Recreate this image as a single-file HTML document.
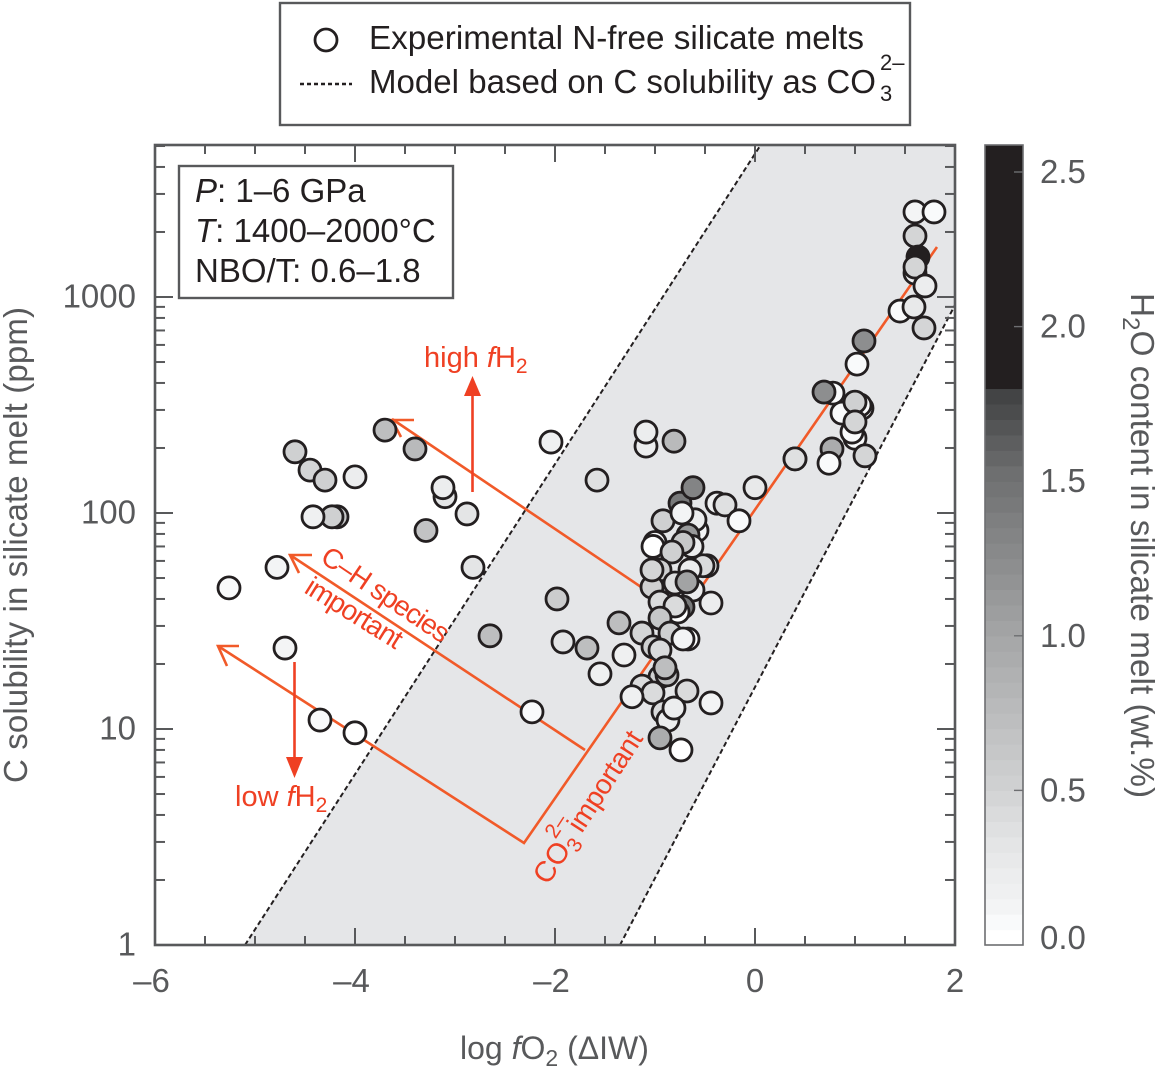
<!DOCTYPE html>
<html lang="en">
<head>
<meta charset="utf-8">
<title>C solubility in silicate melt vs log fO2</title>
<style>
html,body{margin:0;padding:0;background:#fff;width:1160px;height:1070px;overflow:hidden}
svg{display:block;font-family:"Liberation Sans",Arial,sans-serif}
</style>
</head>
<body>
<svg id="chart" xmlns="http://www.w3.org/2000/svg" width="1160" height="1070" viewBox="0 0 1160 1070">
  <rect width="1160" height="1070" fill="#fff"/>
  <g id="band-layer"></g>
  <g id="tick-layer"></g>

  <g fill="none" stroke="#f15a29" stroke-width="2.6">
    <path d="M937 247L524 843L218 646"/>
    <path d="M585 750L290 555"/>
    <path d="M650 593L392 419"/>
    <path d="M239 646H218L227 666"/>
    <path d="M312 555H290L299 573"/>
    <path d="M414 420H392L401 437"/>
  </g>
  <g id="point-layer"></g>

  <g>
    <path d="M472.500 492V392" stroke="#ef4023" stroke-width="2.600" fill="none"/>
    <path d="M472.500 376L481 396H464Z" fill="#ef4023"/>
    <path d="M294.500 662V762" stroke="#ef4023" stroke-width="2.600" fill="none"/>
    <path d="M294.500 778L286 757H303Z" fill="#ef4023"/>
  </g>

  <g fill="#ef4023">
    <text x="424" y="367" font-size="29">high <tspan font-style="italic">f</tspan>H<tspan font-size="21" dy="6">2</tspan></text>
    <text x="235" y="806" font-size="29">low <tspan font-style="italic">f</tspan>H<tspan font-size="21" dy="6">2</tspan></text>
    <text transform="translate(319 561) rotate(34)" font-size="28" textLength="148" lengthAdjust="spacing">C–H species</text>
    <text transform="translate(303 592) rotate(32)" font-size="28" textLength="109" lengthAdjust="spacing">important</text>
    <g transform="translate(548 886) rotate(-57)">
      <text x="0" y="0" font-size="29">CO</text>
      <text x="43" y="7" font-size="21">3</text>
      <text x="43" y="-19" font-size="21">2–</text>
      <text x="62" y="0" font-size="28" textLength="114" lengthAdjust="spacing">important</text>
    </g>
  </g>

  <rect x="155" y="145" width="800" height="800" fill="none" stroke="#58595b" stroke-width="2.600"/>
  <g id="label-layer" fill="#58595b" font-size="33"></g>

  <text x="460" y="1059" font-size="32" fill="#58595b">log <tspan font-style="italic">f</tspan>O<tspan font-size="23" dy="7">2</tspan><tspan dy="-7"> (ΔIW)</tspan></text>
  <text transform="translate(27 783) rotate(-90)" font-size="33" fill="#58595b" textLength="476">C solubility in silicate melt (ppm)</text>

  <g id="colorbar-layer"></g>
  <text transform="translate(1131 293) rotate(90)" font-size="33.400" fill="#58595b">H<tspan font-size="24" dy="8">2</tspan><tspan dy="-8">O content in silicate melt (wt.%)</tspan></text>

  <g>
    <rect x="179" y="166" width="274" height="132" fill="#fff" stroke="#58595b" stroke-width="2.400"/>
    <text x="195" y="202" font-size="33" fill="#231f20"><tspan font-style="italic">P</tspan>: 1–6 GPa</text>
    <text x="195" y="242" font-size="33" fill="#231f20"><tspan font-style="italic">T</tspan>: 1400–2000°C</text>
    <text x="195" y="282" font-size="33" fill="#231f20">NBO/T: 0.6–1.8</text>
  </g>

  <g>
    <rect x="280" y="3" width="630" height="122" fill="#fff" stroke="#58595b" stroke-width="2.400"/>
    <circle cx="326" cy="40" r="11" fill="#fff" stroke="#231f20" stroke-width="2.800"/>
    <text x="369" y="49" font-size="33" fill="#231f20" textLength="495" lengthAdjust="spacingAndGlyphs">Experimental N-free silicate melts</text>
    <line x1="300" y1="84" x2="352" y2="84" stroke="#231f20" stroke-width="2.400" stroke-dasharray="4 3"/>
    <text x="369" y="93" font-size="33" fill="#231f20" textLength="507" lengthAdjust="spacingAndGlyphs">Model based on C solubility as CO</text>
    <text x="880" y="101" font-size="22" fill="#231f20">3</text>
    <text x="880" y="70" font-size="22" fill="#231f20">2–</text>
  </g>
</svg>

<script>
// ---- chart data ----
const pointLogFO2 = [
 -5.26,-4.78,-4.70,-4.60,-4.45,-4.30,-4.18,-4.23,-4.42,-4.00,-4.35,-4.00,-3.70,-3.40,-3.29,-3.10,-3.12,-2.88,-2.82,-2.65,
 -2.23,-2.04,-1.98,-1.92,-1.58,-1.68,-1.55,-1.09,-1.09,-0.81,
 -0.75,-0.62,-0.38,-0.30,0.00,-0.16,0.40,-0.58,-0.60,-0.67,-0.92,-0.73,
 -1.00,-1.02,-0.63,-0.72,-0.83,-0.48,-0.52,
 -0.95,-1.03,-1.03,-0.80,-0.65,-0.62,-0.68,
 -0.44,-0.95,-0.72,-0.77,-0.80,
 -0.95,-1.36,-1.13,-0.85,-0.67,-0.72,-1.02,-0.95,-1.31,
 -0.95,-0.88,-0.90,-1.13,-1.02,-1.23,-0.68,-0.44,-0.92,-0.87,-0.81,-0.95,-0.74,
 1.60,1.79,1.60,1.63,1.60,1.60,1.70,1.45,1.59,1.69,1.09,1.02,0.78,0.69,0.87,1.07,1.05,1.00,1.00,0.97,1.00,0.77,0.74,1.10,0.40
];
const pointSolubilityPpm = [
 45,56,23.7,192,158,142,96,96,96,147,11,9.6,242,198,83,119,131,99,56,27,
 12,213,40,25.3,142,23.7,18,204,237,215,
 111,131,111,109,131,92,178,83,93,79,92,100,
 73,70,70,73,66,57,57,
 54.5,45.4,54.5,47.4,54.5,44,48,
 38.3,38.7,36.7,34.8,37.1,
 32.6,31,27.8,27.8,26.1,26.1,24,23.2,22,
 17.4,17.8,19.2,15.8,14.7,14.1,15,13.2,12,11,12.5,9.1,8,
 2476,2476,1916,1531,1291,1376,1125,861,899,719,626,489,359,363,290,306,316,326,222,237,264,198,170,184,178
];
const pointWaterWtPct = [
 0.05,0.10,0.10,0.50,0.45,0.50,0.60,0.50,0.15,0.20,0.05,0.00,0.70,0.75,0.65,0.30,0.20,0.30,0.30,0.70,
 0.05,0.15,0.55,0.30,0.35,0.70,0.15,0.20,0.20,0.75,
 1.40,1.30,0.15,0.35,0.25,0.05,0.35,0.10,0.20,1.10,0.50,0.10,
 0.05,0.00,0.20,0.60,0.50,0.10,0.40,
 0.50,0.50,0.45,0.35,0.20,0.20,1.00,
 0.20,0.40,1.40,0.00,0.40,
 0.60,0.70,0.45,0.50,0.00,0.10,0.50,0.40,0.15,
 0.50,0.70,0.70,0.40,0.40,0.15,0.40,0.10,0.40,0.20,0.20,0.90,0.00,
 0.10,0.05,0.45,2.40,0.15,0.45,0.20,0.05,0.25,0.45,1.20,0.05,0.05,1.20,0.05,0.05,0.05,0.50,0.05,0.05,0.45,0.90,0.05,0.45,0.35
];
const modelLowerFO2 = [-5.10, 0.05];
const modelLowerPpm = [1, 5000];
const modelUpperFO2 = [-1.35, 2.00];
const modelUpperPpm = [1, 918];
const xTickLabels = ["–6","–4","–2","0","2"];
const xTickValues = [-6,-4,-2,0,2];
const yTickLabels = ["1","10","100","1000"];
const yTickValues = [1,10,100,1000];
const colorbarTickValues = [0,0.5,1,1.5,2,2.5];
const colorbarTickLabels = ["0.0","0.5","1.0","1.5","2.0","2.5"];
const waterStops = [0,0.1,0.3,0.5,1,1.5,1.8];
const greyStops = [255,243,228,207,162,110,58];

// ---- axis functions ----
const xScale = function(v){ return 155 + (v + 6) * 100; };
const yScale = function(v){ return 945 - Math.log10(v) * 216; };
const cScale = function(v){ return 945 - v * 309.2; };
const NS = 'http://www.w3.org/2000/svg';
function make(tag, attrs, parent){
  const node = document.createElementNS(NS, tag);
  Object.keys(attrs).forEach(function(k){ node.setAttribute(k, attrs[k]); });
  parent.appendChild(node);
  return node;
}
function waterColor(w){
  if (w >= 1.8) return '#231f20';
  let i = 0;
  while (i < waterStops.length - 2 && w > waterStops[i + 1]) i++;
  const t = (w - waterStops[i]) / (waterStops[i + 1] - waterStops[i]);
  const g = Math.round(greyStops[i] + t * (greyStops[i + 1] - greyStops[i]));
  return 'rgb(' + g + ',' + (g + 1 > 255 ? 255 : g + 1) + ',' + (g + 2 > 255 ? 255 : g + 2) + ')';
}

// ---- model band ----
const bandLayer = document.getElementById('band-layer');
const bandPts = [];
modelLowerFO2.forEach(function(v, i){ bandPts.push(xScale(v) + ',' + yScale(modelLowerPpm[i])); });
bandPts.push(xScale(2) + ',' + yScale(5000));
for (let i = modelUpperFO2.length - 1; i >= 0; i--) { bandPts.push(xScale(modelUpperFO2[i]) + ',' + yScale(modelUpperPpm[i])); }
const band = make('polygon', {points: bandPts.join(' '), fill: '#e5e6e8'}, bandLayer);


const lowerLine = make('line', {x1: xScale(modelLowerFO2[0]), y1: yScale(modelLowerPpm[0]), x2: xScale(modelLowerFO2[1]), y2: yScale(modelLowerPpm[1]), stroke: '#231f20', 'stroke-width': 2, 'stroke-dasharray': '5 3'}, bandLayer);


const upperLine = make('line', {x1: xScale(modelUpperFO2[0]), y1: yScale(modelUpperPpm[0]), x2: xScale(modelUpperFO2[1]), y2: yScale(modelUpperPpm[1]), stroke: '#231f20', 'stroke-width': 2, 'stroke-dasharray': '5 3'}, bandLayer);



// ---- ticks ----
const tickLayer = document.getElementById('tick-layer');
for (let v = -6; v <= 2; v += 0.5) {
  const len = xTickValues.indexOf(v) >= 0 ? 17 : 9;
  [[945, 945 - len], [145, 145 + len]].forEach(function(p){
    const t = make('line', {x1: xScale(v), x2: xScale(v), y1: p[0], y2: p[1], stroke: '#58595b', 'stroke-width': 2}, tickLayer);
    
    
  });
}
[1,10,100,1000].forEach(function(dec){
  for (let m = 1; m <= 9; m++) {
    const v = dec * m;
    if (v > 5000) continue;
    const len = m === 1 ? 18 : 10;
    [[155, 155 + len], [955, 955 - len]].forEach(function(p){
      const t = make('line', {x1: p[0], x2: p[1], y1: yScale(v), y2: yScale(v), stroke: '#58595b', 'stroke-width': 2}, tickLayer);
      
      
    });
  }
});

// ---- tick labels ----
const labelLayer = document.getElementById('label-layer');
xTickValues.forEach(function(v, i){
  const t = make('text', {x: xScale(v) - (v < 0 ? 3.5 : 0), y: 992, 'text-anchor': 'middle'}, labelLayer);
  
  
  t.textContent = xTickLabels[i];
});
yTickValues.forEach(function(v, i){
  const t = make('text', {x: 136, y: yScale(v) + 10.5, 'text-anchor': 'end'}, labelLayer);
  
  
  t.textContent = yTickLabels[i];
});

// ---- points ----
const pointLayer = document.getElementById('point-layer');
pointLogFO2.forEach(function(v, i){
  const c = make('circle', {cx: xScale(v), cy: yScale(pointSolubilityPpm[i]), r: 11, fill: waterColor(pointWaterWtPct[i]), stroke: '#231f20', 'stroke-width': 2.8}, pointLayer);
  
  
});

// ---- colorbar ----
const cbLayer = document.getElementById('colorbar-layer');
for (let s = 0; s < 37; s++) {
  const w0 = s * 0.05;
  const r = make('rect', {x: 985, y: cScale(w0 + 0.05), width: 38, height: 0.05 * 309.2 + 0.6, fill: waterColor(w0)}, cbLayer);
  
  
}
const cbTop = make('rect', {x: 985, y: 145, width: 38, height: 238, fill: '#231f20'}, cbLayer);


const cbFrame = make('rect', {x: 985, y: 145, width: 38, height: 800, fill: 'none', stroke: '#6d6e71', 'stroke-width': 1.6}, cbLayer);


colorbarTickValues.forEach(function(v, i){
  if (v > 0) {
    const t = make('line', {x1: 1014, x2: 1023, y1: cScale(v), y2: cScale(v), stroke: '#6d6e71', 'stroke-width': 1.4}, cbLayer);
    
    
  }
  const l = make('text', {x: 1040, y: v === 0 ? 949 : cScale(v) + 11, 'font-size': 33, fill: '#58595b'}, cbLayer);
  
  
  l.textContent = colorbarTickLabels[i];
});
</script>
</body>
</html>
